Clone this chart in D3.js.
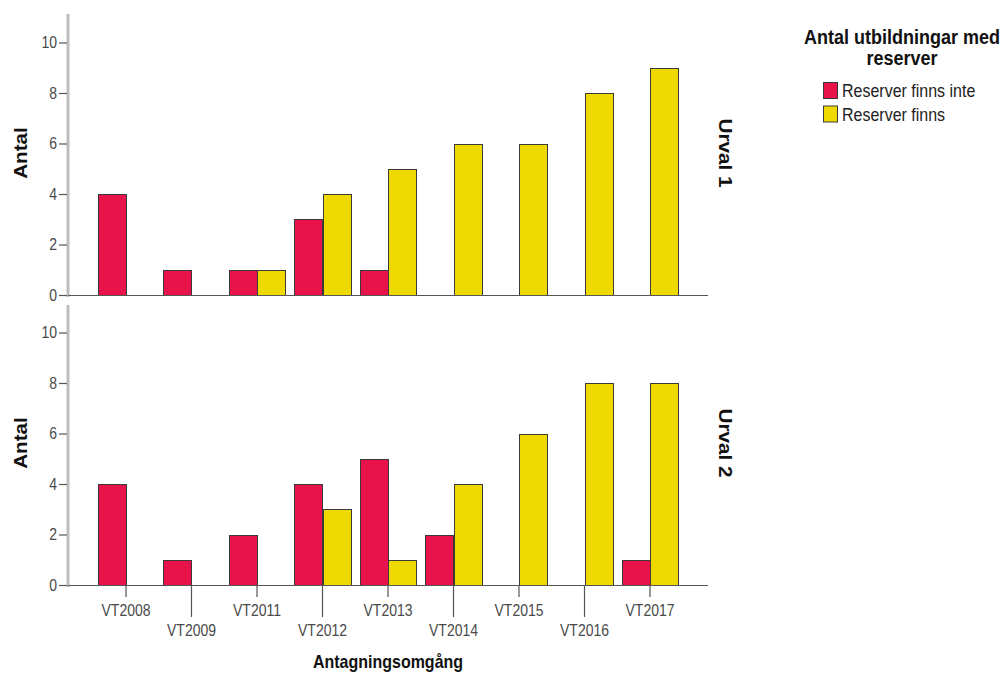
<!DOCTYPE html>
<html>
<head>
<meta charset="utf-8">
<script src="https://cdn.jsdelivr.net/npm/d3@7"></script>
<style>
  html, body { margin: 0; padding: 0; background: #ffffff; }
  svg { display: block; font-family: "Liberation Sans", Arial, sans-serif; }
</style>
</head>
<body>
<script>
// ---- data ----
const categories = ["VT2008", "VT2009", "VT2011", "VT2012", "VT2013", "VT2014", "VT2015", "VT2016", "VT2017"];
const seriesNames = ["Reserver finns inte", "Reserver finns"];
const panelNames = ["Urval 1", "Urval 2"];
const urval1Inte  = [4, 1, 1, 3, 1, 0, 0, 0, 0];
const urval1Finns = [0, 0, 1, 4, 5, 6, 6, 8, 9];
const urval2Inte  = [4, 1, 2, 4, 5, 2, 0, 0, 1];
const urval2Finns = [0, 0, 0, 3, 1, 4, 6, 8, 8];
const yTicks = [0, 2, 4, 6, 8, 10];
const legendTitle = ["Antal utbildningar med", "reserver"];
const yTitle = "Antal";
const xTitle = "Antagningsomgång";

// ---- layout ----
const W = 1001, H = 673;
const STRETCH = 1.15;
const axisX = 68, axisRight = 708;
const panels = [
  { name: panelNames[0], inte: urval1Inte, finns: urval1Finns, zero: 295, top: 14 },
  { name: panelNames[1], inte: urval2Inte, finns: urval2Finns, zero: 585, top: 305 }
];
const unitSpan = 252.5; // px for 0..10

const svg = d3.select("body").append("svg").attr("width", W).attr("height", H);

const x0 = d3.scaleBand().domain(categories).range([93.25, 682.75])
  .paddingInner(0.145).paddingOuter(0.0725);
const x1 = d3.scaleBand().domain(seriesNames).range([0, x0.bandwidth()]);
const color = d3.scaleOrdinal().domain(seriesNames).range(["#E8134A", "#EEDA00"]);

panels.forEach((p, pi) => {
  const y = d3.scaleLinear().domain([0, 10]).range([p.zero, p.zero - unitSpan]);
  const g = svg.append("g");

  // y axis line (light gray, thick)
  g.append("line")
    .attr("x1", axisX).attr("x2", axisX)
    .attr("y1", p.top).attr("y2", p.zero + 2)
    .attr("stroke", "#bdbdbd").attr("stroke-width", 3);

  // y ticks
  const ya = g.append("g").attr("transform", `translate(${axisX - 1},0)`)
    .call(d3.axisLeft(y).tickValues(yTicks).tickSize(8).tickPadding(2).tickFormat(d3.format("d")));
  ya.select(".domain").remove();
  ya.selectAll(".tick line").attr("stroke", "#555").attr("stroke-width", 1.2);
  ya.selectAll(".tick text")
    .attr("font-size", 14).attr("fill", "#4a4a4a")
    .attr("font-family", "'Liberation Sans', Arial, sans-serif")
    .attr("dy", null).attr("y", 0)
    .attr("transform", `translate(0,${5}) scale(1,${STRETCH})`);

  // bars
  const rows = [];
  categories.forEach((c, i) => {
    rows.push({ cat: c, s: seriesNames[0], v: p.inte[i] });
    rows.push({ cat: c, s: seriesNames[1], v: p.finns[i] });
  });
  g.selectAll("rect.bar").data(rows.filter(d => d.v > 0)).join("rect")
    .attr("class", "bar")
    .attr("x", d => Math.round(x0(d.cat) + x1(d.s)) + 0.5)
    .attr("y", d => Math.round(y(d.v)) + 0.5)
    .attr("width", x1.bandwidth())
    .attr("height", d => Math.round(p.zero) - Math.round(y(d.v)))
    .attr("fill", d => color(d.s))
    .attr("stroke", "#3a3a3a").attr("stroke-width", 1);

  // baseline
  g.append("line")
    .attr("x1", axisX).attr("x2", axisRight)
    .attr("y1", p.zero + 0.5).attr("y2", p.zero + 0.5)
    .attr("stroke", "#555").attr("stroke-width", 1.2);

  // y title
  g.append("text")
    .attr("transform", `translate(26.5,${pi === 0 ? 153 : 443}) rotate(-90) scale(${STRETCH},1)`)
    .attr("text-anchor", "middle")
    .attr("font-size", 18).attr("font-weight", "bold").attr("fill", "#111")
    .text(yTitle);

  // panel label
  g.append("text")
    .attr("transform", `translate(718.5,${pi === 0 ? 153 : 443}) rotate(90) scale(${STRETCH},1)`)
    .attr("text-anchor", "middle")
    .attr("font-size", 18).attr("font-weight", "bold").attr("fill", "#111")
    .text(p.name);

  // x axis on bottom panel only
  if (pi === panels.length - 1) {
    const xa = g.append("g").attr("transform", `translate(0,${p.zero})`)
      .call(d3.axisBottom(x0).tickSize(12).tickSizeOuter(0));
    xa.select(".domain").remove();
    xa.selectAll(".tick line")
      .attr("stroke", "#555").attr("stroke-width", 1.2)
      .attr("y2", (d, i) => i % 2 === 0 ? 12 : 32);
    xa.selectAll(".tick text")
      .attr("font-size", 14).attr("fill", "#4a4a4a")
      .attr("font-family", "'Liberation Sans', Arial, sans-serif")
      .attr("dy", null).attr("y", 0)
      .attr("transform", (d, i) => `translate(0,${i % 2 === 0 ? 31 : 51}) scale(1,${STRETCH})`);
  }
});

// x title
svg.append("text")
  .attr("transform", `translate(388,668) scale(1,${STRETCH})`)
  .attr("text-anchor", "middle")
  .attr("font-size", 16).attr("font-weight", "bold").attr("fill", "#111")
  .text(xTitle);

// legend
const lg = svg.append("g");
legendTitle.forEach((t, i) => {
  lg.append("text")
    .attr("transform", `translate(902,${i === 0 ? 43.5 : 65}) scale(1,${STRETCH})`)
    .attr("text-anchor", "middle")
    .attr("font-size", 18).attr("font-weight", "bold").attr("fill", "#111")
    .text(t);
});
seriesNames.forEach((s, i) => {
  const cy = 90.5 + i * 23.5;
  lg.append("rect")
    .attr("x", 823.5).attr("y", cy - 8)
    .attr("width", 14).attr("height", 16)
    .attr("fill", color(s)).attr("stroke", "#3a3a3a").attr("stroke-width", 1);
  lg.append("text")
    .attr("transform", `translate(842,${cy + 6.5}) scale(1,${STRETCH})`)
    .attr("font-size", 16).attr("fill", "#222")
    .text(s);
});
</script>
</body>
</html>
